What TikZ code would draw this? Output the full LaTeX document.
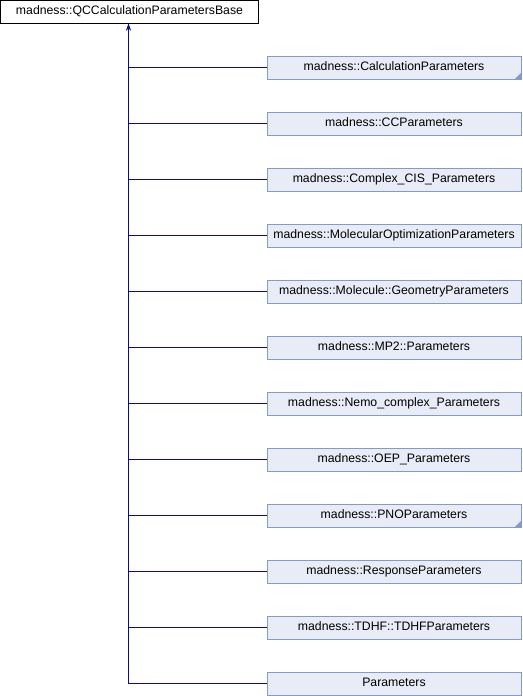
\documentclass[tikz,border=0pt]{standalone}
\usepackage{fontspec}
\setmainfont{Liberation Sans}
\usetikzlibrary{arrows.meta}
\definecolor{boxfill}{RGB}{232,236,246}
\definecolor{boxline}{RGB}{132,155,201}
\definecolor{edgecol}{RGB}{10,10,160}
\tikzset{
  px/.style={x=0.75pt,y=-0.75pt},
  lbl/.style={font=\fontsize{9.2pt}{11pt}\selectfont, text height=6.7pt, text depth=1.8pt},
  basebox/.style={lbl, draw=black, fill=white, line width=0.75pt, minimum width=258*0.75pt, minimum height=23*0.75pt, inner sep=0pt},
  childbox/.style={lbl, draw=boxline, fill=boxfill, line width=0.75pt, minimum width=254*0.75pt, minimum height=23*0.75pt, inner sep=0pt},
  edge/.style={draw=edgecol, line width=0.8pt},
  more/.style={fill=boxline, draw=none}
}
\begin{document}
\begin{tikzpicture}[px]
\useasboundingbox (0,0) rectangle (522,696);
\node[basebox] (base) at (129.5,11.5) {madness::QCCalculationParametersBase};
\coordinate (trunk) at (128.5,684);
\foreach \i/\t in {0/{madness::CalculationParameters},
                   1/{madness::CCParameters},
                   2/{madness::Complex\_CIS\_Parameters},
                   3/{madness::MolecularOptimizationParameters},
                   4/{madness::Molecule::GeometryParameters},
                   5/{madness::MP2::Parameters},
                   6/{madness::Nemo\_complex\_Parameters},
                   7/{madness::OEP\_Parameters},
                   8/{madness::PNOParameters},
                   9/{madness::ResponseParameters},
                   10/{madness::TDHF::TDHFParameters},
                   11/{Parameters}}{
  \node[childbox] (c\i) at (394,{67.5+56*\i}) {\t};
  \draw[edge] (c\i.west) -- (c\i.west -| trunk);
}
\draw[edge, -{Stealth[length=5.5pt,width=4pt]}] (trunk) -- (base.south -| trunk);
\foreach \i in {0,8}{
  \fill[more] ([xshift=-0.4pt,yshift=0.4pt]c\i.south east) -- ++(0,{6*0.75pt}) -- ++({-6*0.75pt},{-6*0.75pt}) -- cycle;
}
\end{tikzpicture}
\end{document}
